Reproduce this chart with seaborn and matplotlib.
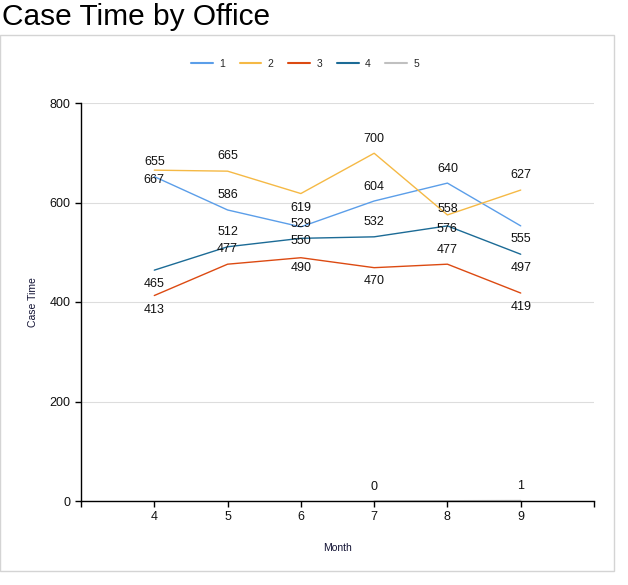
import matplotlib
matplotlib.use("Agg")
import matplotlib.pyplot as plt
from matplotlib.patches import Rectangle
import numpy as np
import pandas as pd
import seaborn as sns

# data
months = [4, 5, 6, 7, 8, 9]
office_1 = [652, 585, 551, 603, 639, 553]
office_2 = [665, 663, 618, 699, 575, 625]
office_3 = [413, 476, 489, 469, 476, 418]
office_4 = [464, 511, 528, 531, 553, 496]
office_5 = [np.nan, np.nan, np.nan, 0, np.nan, 1]

# data labels as printed in the chart
labels_1 = ["667", "586", "529", "604", "640", "555"]
labels_2 = ["655", "665", "619", "700", "558", "627"]
labels_3 = ["413", "477", "490", "470", "477", "419"]
labels_4 = ["465", "512", "550", "532", "576", "497"]
labels_5 = ["", "", "", "0", "", "1"]

# label offsets in pixels (positive = down)
offs_1 = [3, -15, -3, -14, -14, 13]
offs_2 = [-8, -15, 14, -14, -6, -15]
offs_3 = [14, -15, 10, 13, -14, 14]
offs_4 = [14, -15, 3, -15, 3, 14]
offs_5 = [0, 0, 0, -14, 0, -15]

colors = ["#5b9ee9", "#f5b945", "#dc4a12", "#1c6b96", "#c0c0c0"]

series = [office_1, office_2, office_3, office_4, office_5]
rows = []
for i, vals in enumerate(series):
    for m, v in zip(months, vals):
        if not np.isnan(v):
            rows.append({"Month": m, "Case Time": v, "Office": str(i + 1)})
df = pd.DataFrame(rows)

sns.set_style("white")
plt.rcParams["font.family"] = ["Liberation Sans", "DejaVu Sans"]

fig = plt.figure(figsize=(6.28, 5.85), dpi=100)
ax = fig.add_axes([81 / 628, 1 - 501 / 585, (594 - 81) / 628, (501 - 103) / 585])

sns.lineplot(data=df, x="Month", y="Case Time", hue="Office",
             palette=colors, linewidth=1, ax=ax, legend=True)

# data labels
px = 72 / 100
all_labels = [labels_1, labels_2, labels_3, labels_4, labels_5]
all_offs = [offs_1, offs_2, offs_3, offs_4, offs_5]
for vals, labs, offs in zip(series, all_labels, all_offs):
    for m, v, t, o in zip(months, vals, labs, offs):
        if t == "" or np.isnan(v):
            continue
        ax.annotate(t, (m, v), xytext=(0, -o * px), textcoords="offset points",
                    ha="center", va="center", fontsize=9, color="#111111")

ax.set_xlim(3, 10)
ax.set_ylim(0, 800)
ax.set_xticks(range(3, 11))
ax.set_xticklabels([""] + [str(m) for m in months] + [""])
ax.set_yticks([0, 200, 400, 600, 800])
ax.yaxis.grid(True, color="#dddddd", linewidth=0.8)
ax.xaxis.grid(False)
ax.tick_params(axis="both", length=4, width=1, color="black", labelsize=9,
               labelcolor="#111111", bottom=True, left=True)
for s in ["top", "right"]:
    ax.spines[s].set_visible(False)
for s in ["left", "bottom"]:
    ax.spines[s].set_color("black")
    ax.spines[s].set_linewidth(1)
    ax.spines[s].set_zorder(5)

ax.set_xlabel("Month", fontsize=7.5, color="#111133", labelpad=14)
ax.set_ylabel("Case Time", fontsize=7.5, color="#111133", labelpad=8)

handles, labs = ax.get_legend_handles_labels()
leg = ax.legend(handles, labs, loc="center", bbox_to_anchor=(305 / 628, 1 - 64 / 585),
                bbox_transform=fig.transFigure, ncol=5, frameon=False, fontsize=7.5,
                handlelength=2.1, columnspacing=1.4, handletextpad=0.6)
for line in leg.get_lines():
    line.set_linewidth(1.5)

# outer border and title
fig.patches.append(Rectangle((0, 1 - 571 / 585), 614 / 628, (571 - 35) / 585,
                             transform=fig.transFigure, fill=False,
                             edgecolor="#d4d4d4", linewidth=1))
fig.text(2 / 628, 1 - 17 / 585, "Case Time by Office", fontsize=21.5,
         ha="left", va="center", color="black")

fig.savefig("out.png", dpi=100)
